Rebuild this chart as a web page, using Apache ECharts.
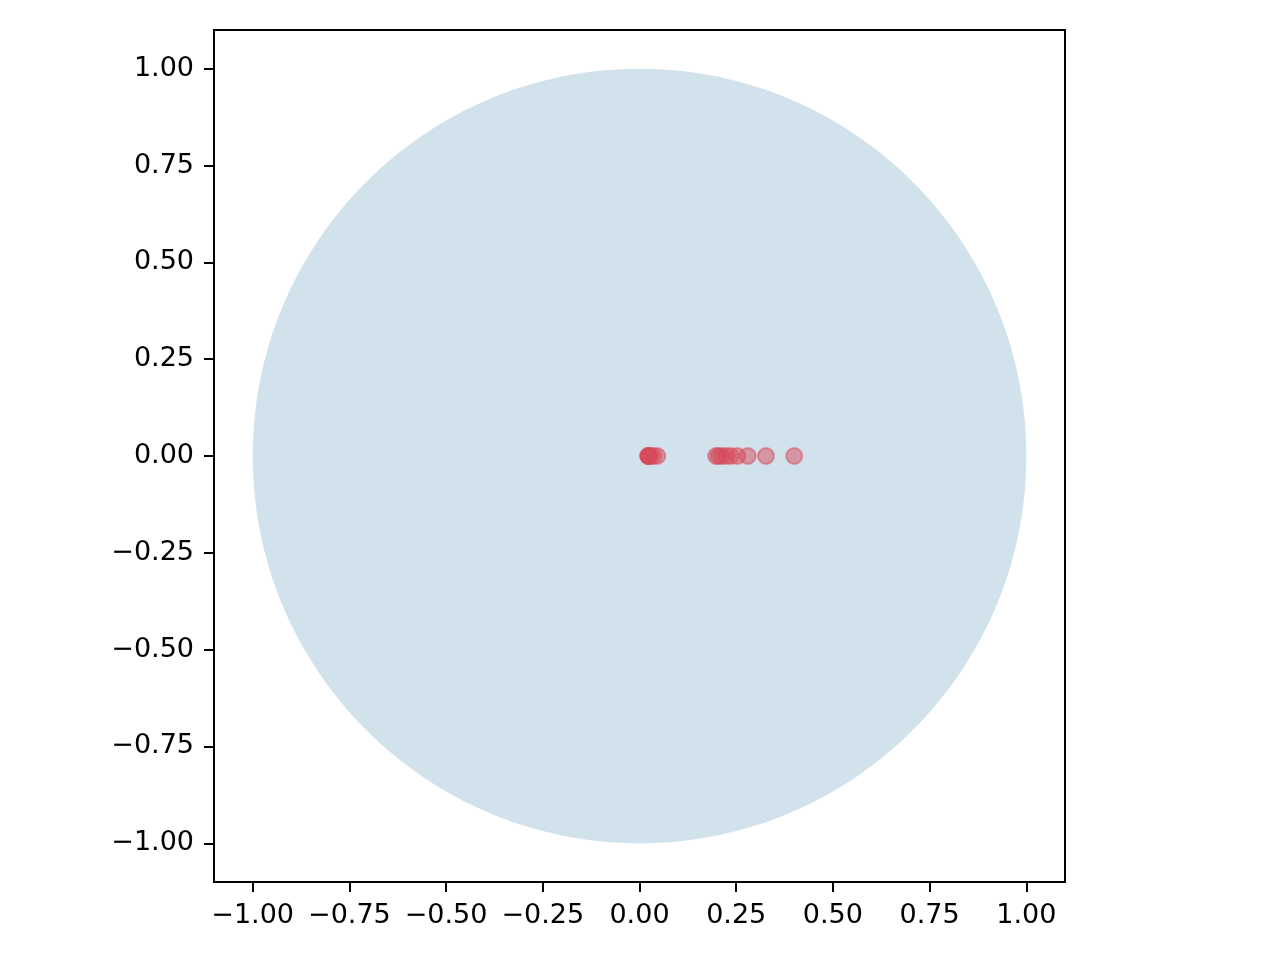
<!DOCTYPE html>
<html>
<head>
<meta charset="utf-8">
<script src="https://cdn.jsdelivr.net/npm/echarts@6/dist/echarts.min.js"></script>
<style>html,body{margin:0;padding:0;background:#fff}#c{width:1280px;height:960px}</style>
</head>
<body>
<div id="c"></div>
<script>
// Data
var pointsX = [0.022, 0.023, 0.024, 0.025, 0.027, 0.036, 0.046,
               0.198, 0.205, 0.212, 0.224, 0.236, 0.253, 0.280, 0.327, 0.400];
var pointsY = [0, 0, 0, 0, 0, 0, 0, 0, 0, 0, 0, 0, 0, 0, 0, 0];
var circleCenter = [0, 0];
var circleRadius = 1;
var tickValues = [-1.0, -0.75, -0.5, -0.25, 0, 0.25, 0.5, 0.75, 1.0];

function fmt(v) {
  var s = v.toFixed(2);
  return s.charAt(0) === '-' ? '\u2212' + s.slice(1) : s;
}

var chart = echarts.init(document.getElementById('c'), null, {renderer: 'canvas'});
var font = 'DejaVu Sans';
function axisCfg(isX) {
  return {
    type: 'value', min: -1.1, max: 1.1,
    splitLine: {show: false},
    axisLine: {show: true, onZero: false, lineStyle: {color: '#000', width: 2}},
    axisTick: {show: true, customValues: tickValues, length: 10, lineStyle: {color: '#000', width: 2}},
    axisLabel: {show: true, customValues: tickValues, formatter: fmt, color: '#000',
      fontFamily: font, fontSize: 27, margin: isX ? 20 : 20,
      padding: isX ? 0 : [4, 0, 0, 0]},
    position: isX ? 'bottom' : 'left'
  };
}
var scatterData = pointsX.map(function (x, i) { return [x, pointsY[i]]; });
chart.setOption({
  animation: false,
  backgroundColor: '#fff',
  grid: {left: 214, top: 30, width: 851, height: 852, show: true, borderColor: '#000', borderWidth: 2, backgroundColor: 'transparent'},
  xAxis: axisCfg(true),
  yAxis: axisCfg(false),
  series: [
    {
      type: 'custom',
      data: [[circleCenter[0], circleCenter[1], circleRadius]],
      renderItem: function (params, api) {
        var c = api.coord([api.value(0), api.value(1)]);
        var s = api.size([api.value(2), api.value(2)]);
        return {
          type: 'ellipse',
          shape: {cx: c[0], cy: c[1], rx: s[0], ry: s[1]},
          style: {fill: '#d1e2ed', stroke: null}
        };
      },
      z: 1,
      silent: true
    },
    {
      type: 'scatter',
      data: scatterData,
      symbol: 'circle',
      symbolSize: 16,
      itemStyle: {color: '#d74a59', borderColor: '#d74a59', borderWidth: 2, opacity: 0.5},
      z: 3
    }
  ]
});
</script>
</body>
</html>
